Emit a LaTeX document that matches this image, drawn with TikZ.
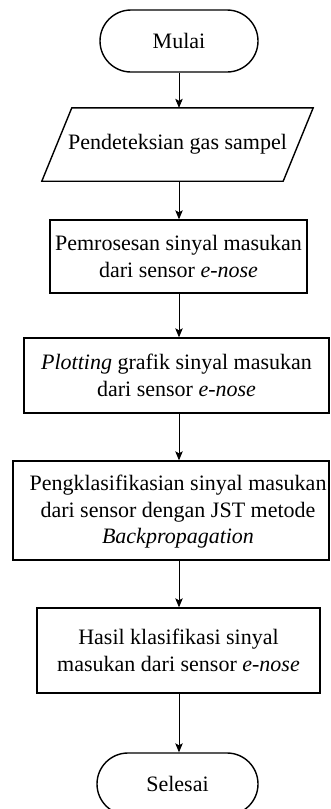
\documentclass[tikz,border=0pt]{standalone}
\usepackage{fontspec}
\setmainfont{Liberation Serif}
\usetikzlibrary{arrows.meta,calc}
\begin{document}
\begin{tikzpicture}[x=1pt,y=-1pt,
  box/.style={draw,line width=1.4pt,rectangle,inner sep=0pt,align=center,font=\fontsize{22}{26.5}\selectfont},
  term/.style={draw,line width=1.4pt,rectangle,rounded corners=31pt,inner sep=0pt,align=center,font=\fontsize{22}{26.5}\selectfont},
  txt/.style={inner sep=0pt,align=center,font=\fontsize{22}{26.5}\selectfont},
  arr/.style={line width=0.9pt,-{Stealth[length=9pt,width=7.5pt,inset=2pt]}}]
\useasboundingbox (0,0) rectangle (330,809);
\clip (0,0) rectangle (330,809);
\node[term,minimum width=158pt,minimum height=62pt] (start) at (179,41) {Mulai};
\node[txt,minimum width=241pt,minimum height=73pt] (io) at (177.5,144.5) {Pendeteksian gas sampel};
\draw[line width=1.4pt] ($(io.north west)+(15,0)$) -- ($(io.north east)+(15,0)$) -- ($(io.south east)+(-15,0)$) -- ($(io.south west)+(-15,0)$) -- cycle;
\node[box,minimum width=257pt,minimum height=73pt] (p1) at (178.5,256.5) {Pemrosesan sinyal masukan\\dari sensor \textit{e-nose}};
\node[box,minimum width=305pt,minimum height=75pt] (p2) at (176.5,375.5) {\textit{Plotting} grafik sinyal masukan\\dari sensor \textit{e-nose}};
\node[box,minimum width=316pt,minimum height=99pt] (p3) at (171,510.5) {};
\node[txt] (t3) at (178,512) {Pengklasifikasian sinyal masukan\\dari sensor dengan JST metode\\\textit{Backpropagation}};
\node[box,minimum width=283pt,minimum height=85pt] (p4) at (178.5,650.5) {Hasil klasifikasi sinyal\\masukan dari sensor \textit{e-nose}};
\node[term,minimum width=161pt,minimum height=62pt] (stop) at (177.5,784) {Selesai};
\draw[arr] (start.south) -- (start.south |- io.north);
\draw[arr] (start.south |- io.south) -- (start.south |- p1.north);
\draw[arr] (start.south |- p1.south) -- (start.south |- p2.north);
\draw[arr] (start.south |- p2.south) -- (start.south |- p3.north);
\draw[arr] (start.south |- p3.south) -- (start.south |- p4.north);
\draw[arr] (start.south |- p4.south) -- (start.south |- stop.north);
\end{tikzpicture}
\end{document}
